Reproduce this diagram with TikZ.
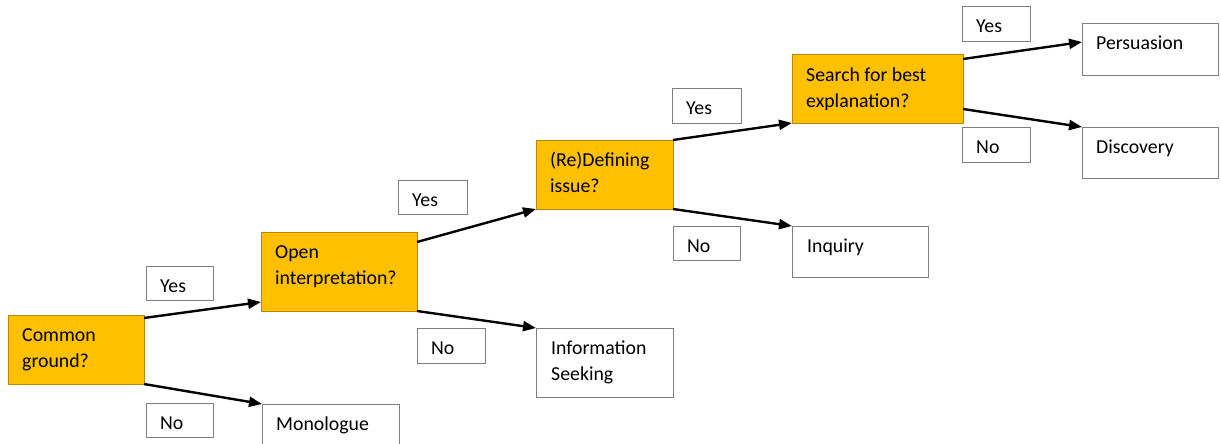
\documentclass[tikz,border=0pt]{standalone}
\usepackage{fontspec}
\setmainfont{Carlito}
\usetikzlibrary{arrows.meta,calc}
\definecolor{gold}{HTML}{FFC000}
\definecolor{goldline}{HTML}{B8860B}
\definecolor{boxline}{HTML}{7F7F7F}
\tikzset{
  frame/.style={inner sep=0pt, outer sep=0pt, anchor=north west, line width=1pt},
  decision/.style={frame, draw=goldline, fill=gold},
  outcome/.style={frame, draw=boxline, fill=white},
  tag/.style={frame, draw=boxline, fill=white},
  txt/.style={anchor=base west, inner sep=0pt, align=left,
    font=\fontsize{19.8}{26}\selectfont},
  flow/.style={line width=2.4pt, -{Triangle[length=13pt,width=10pt]}},
}
\begin{document}
\begin{tikzpicture}[x=1pt,y=-1pt]
\useasboundingbox (0,0) rectangle (1221,444);
\clip (0,0) rectangle (1221,444);

% decision boxes
\node[decision, minimum width=136pt, minimum height=69pt] (cg) at (8,315) {};
\node[decision, minimum width=156pt, minimum height=79pt] (oi) at (261,232) {};
\node[decision, minimum width=137pt, minimum height=69pt] (rd) at (536,140) {};
\node[decision, minimum width=171pt, minimum height=68pt] (sb) at (792,55) {};

% outcome boxes
\node[outcome, minimum width=137pt, minimum height=60pt] (mono) at (262,404) {};
\node[outcome, minimum width=137pt, minimum height=69pt] (info) at (536,328) {};
\node[outcome, minimum width=136pt, minimum height=51pt] (inq) at (792,226) {};
\node[outcome, minimum width=136pt, minimum height=52pt] (pers) at (1082,24) {};
\node[outcome, minimum width=136pt, minimum height=51pt] (disc) at (1082,127) {};

% yes / no tags
\node[tag, minimum width=67pt, minimum height=34pt] (y1) at (146,266) {};
\node[tag, minimum width=67pt, minimum height=34pt] (n1) at (146,403) {};
\node[tag, minimum width=69pt, minimum height=34pt] (y2) at (398,180) {};
\node[tag, minimum width=68pt, minimum height=35pt] (n2) at (417,328) {};
\node[tag, minimum width=69pt, minimum height=35pt] (y3) at (672,88) {};
\node[tag, minimum width=67pt, minimum height=34pt] (n3) at (673,226) {};
\node[tag, minimum width=68pt, minimum height=35pt] (y4) at (962,7) {};
\node[tag, minimum width=68pt, minimum height=35pt] (n4) at (962,127) {};

% texts (two-line texts sit on the baseline of their second line)
\node[txt] (cg-t) at ($(cg.north west)+(14,52)$) {Common\\ground?};
\node[txt] (oi-t) at ($(oi.north west)+(14,52)$) {Open\\interpretation?};
\node[txt] (rd-t) at ($(rd.north west)+(14,52)$) {(Re)Defining\\issue?};
\node[txt] (sb-t) at ($(sb.north west)+(14,52)$) {Search for best\\explanation?};
\node[txt] (mono-t) at ($(mono.north west)+(14,26)$) {Monologue};
\node[txt] (info-t) at ($(info.north west)+(15,52)$) {Information\\Seeking};
\node[txt] (inq-t) at ($(inq.north west)+(15,26)$) {Inquiry};
\node[txt] (pers-t) at ($(pers.north west)+(14,26)$) {Persuasion};
\node[txt] (disc-t) at ($(disc.north west)+(14,26)$) {Discovery};
\node[txt] (y1-t) at ($(y1.north west)+(14,26)$) {Yes};
\node[txt] (n1-t) at ($(n1.north west)+(14,26)$) {No};
\node[txt] (y2-t) at ($(y2.north west)+(14,26)$) {Yes};
\node[txt] (n2-t) at ($(n2.north west)+(14,26)$) {No};
\node[txt] (y3-t) at ($(y3.north west)+(14,26)$) {Yes};
\node[txt] (n3-t) at ($(n3.north west)+(14,26)$) {No};
\node[txt] (y4-t) at ($(y4.north west)+(14,26)$) {Yes};
\node[txt] (n4-t) at ($(n4.north west)+(14,26)$) {No};

% connectors
\draw[flow] ($(cg.north east)+(0,3)$) -- ($(oi.south west)+(0,-9)$);
\draw[flow] (cg.south east) -- (mono.north west);
\draw[flow] ($(oi.north east)+(0,10)$) -- (rd.south west);
\draw[flow] (oi.south east) -- (info.north west);
\draw[flow] (rd.north east) -- (sb.south west);
\draw[flow] (rd.south east) -- (inq.north west);
\draw[flow] ($(sb.north east)+(0,4)$) -- ($(pers.north west)+(0,18)$);
\draw[flow] ($(sb.south east)+(0,-14)$) -- (disc.north west);
\end{tikzpicture}
\end{document}
